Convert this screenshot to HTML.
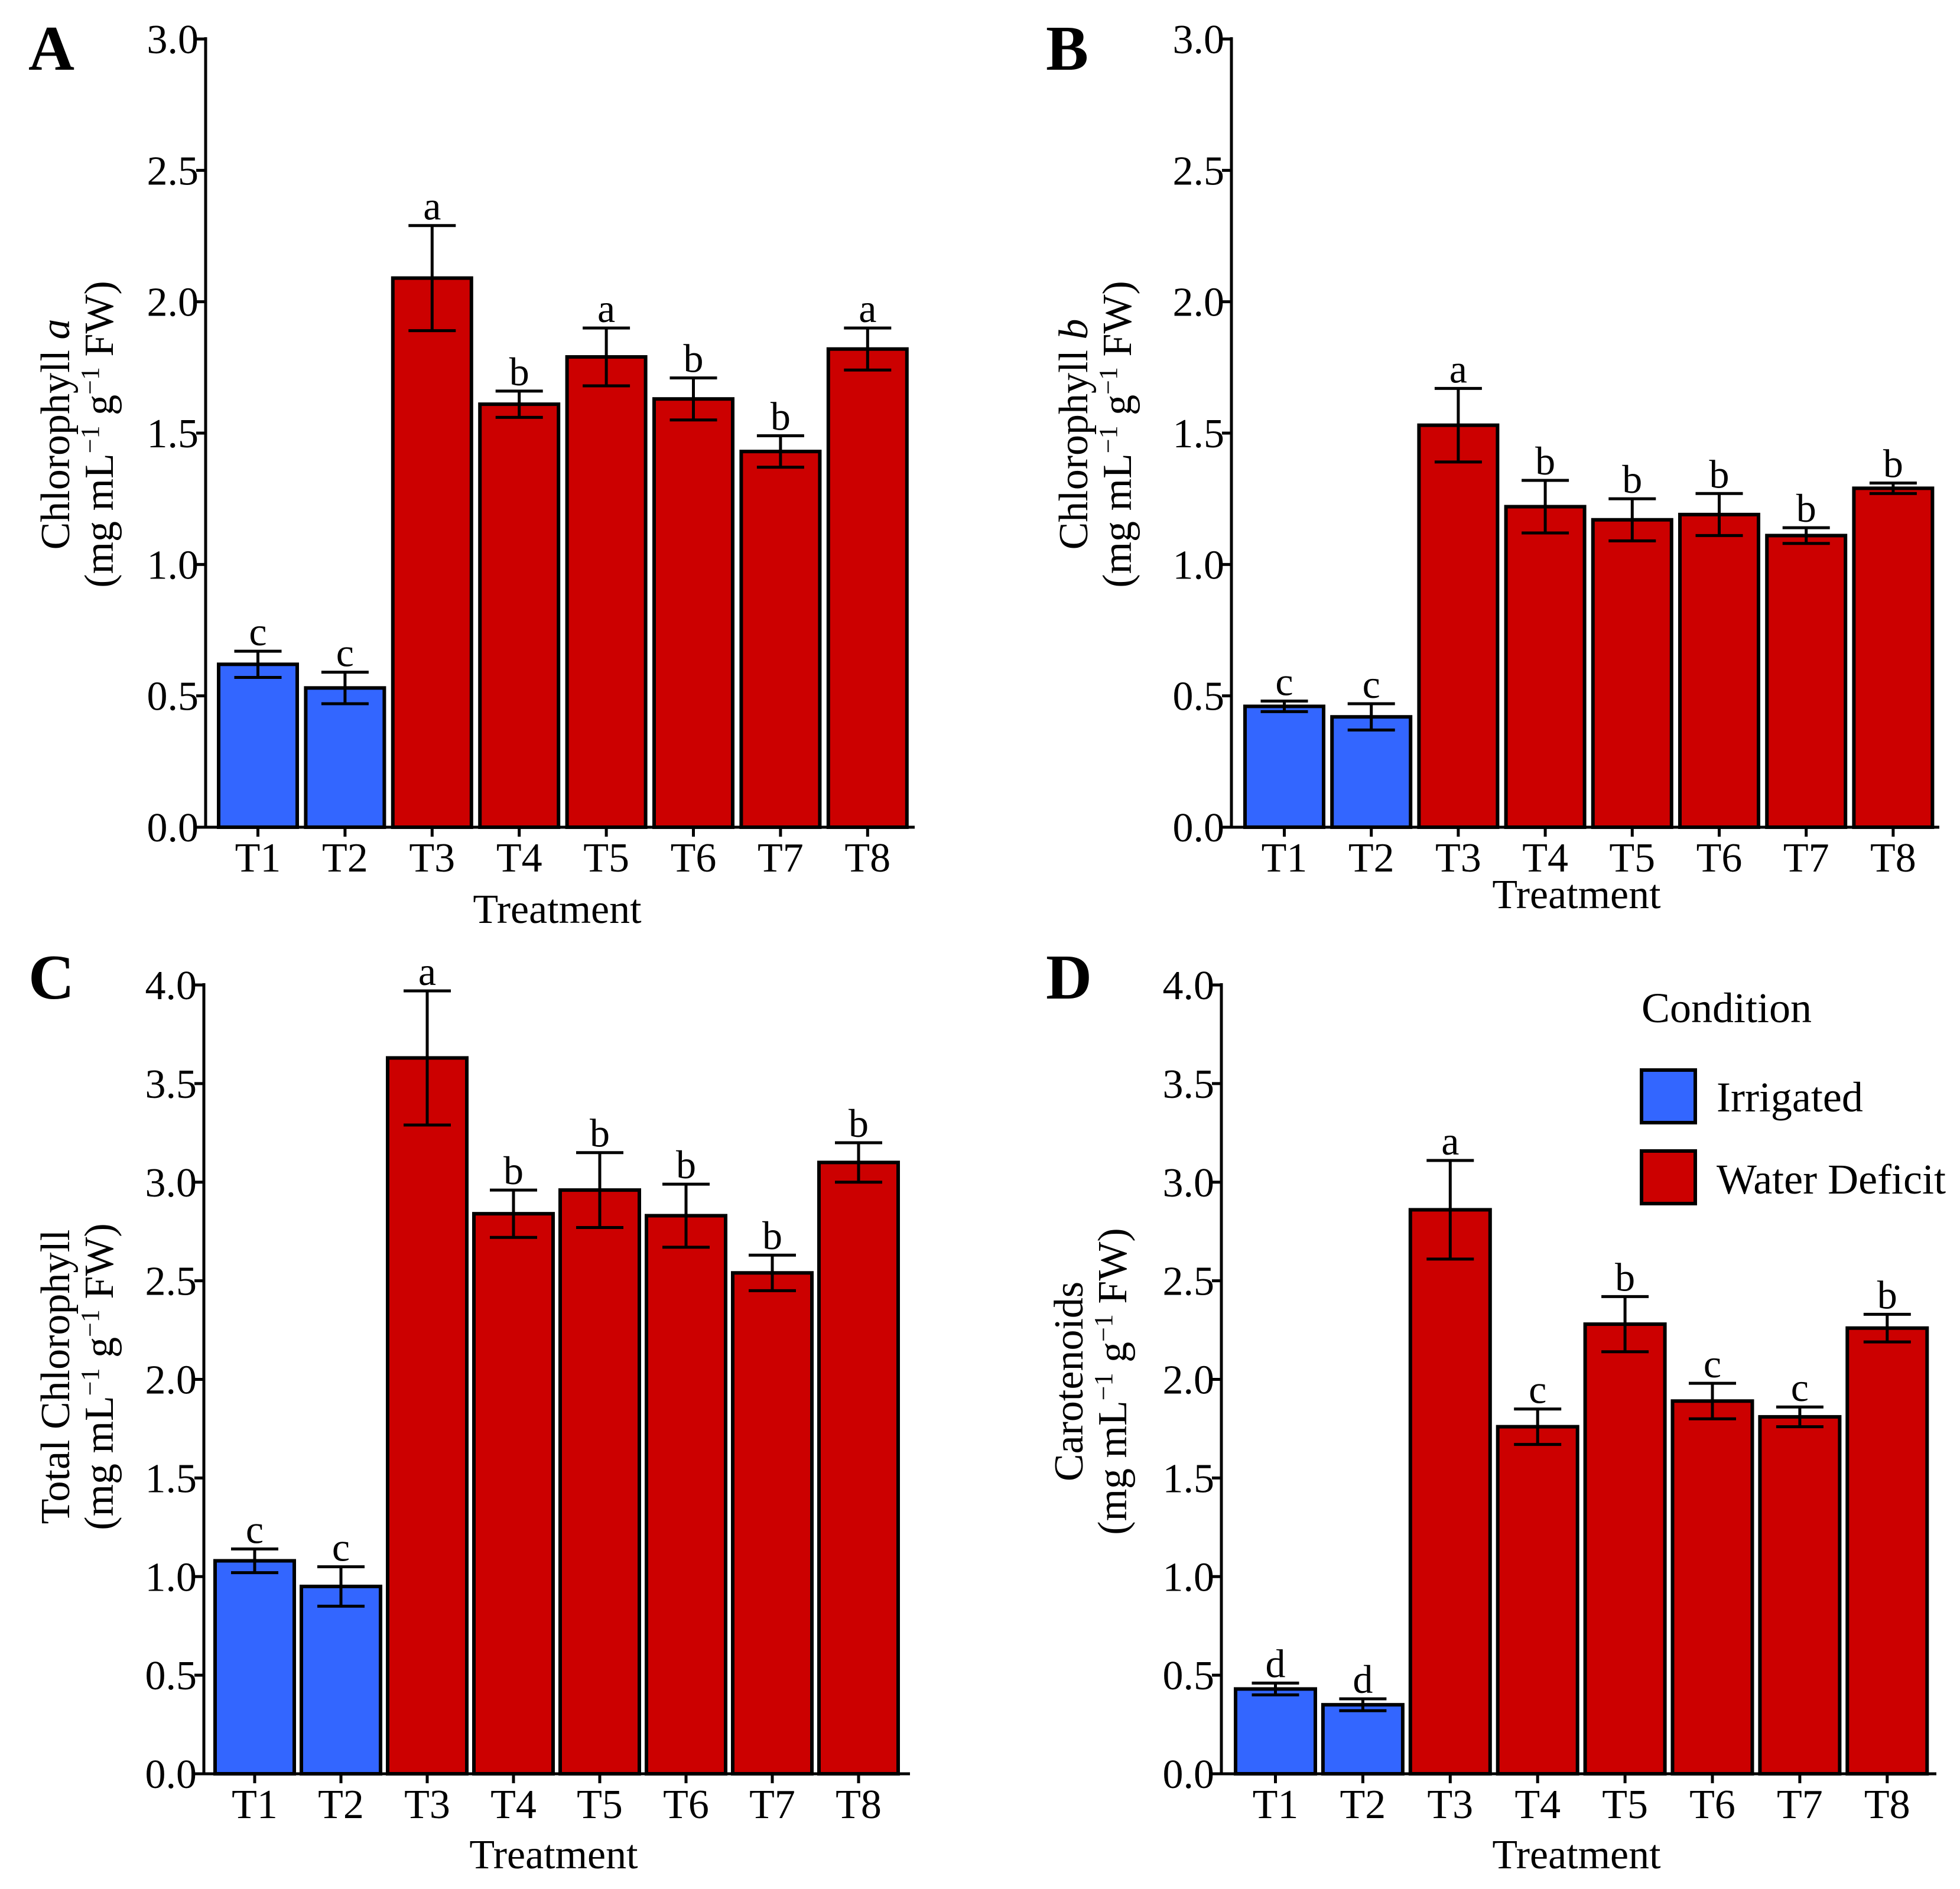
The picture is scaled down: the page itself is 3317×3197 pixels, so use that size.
<!DOCTYPE html>
<html><head><meta charset="utf-8"><style>
html,body{margin:0;padding:0;background:#fff;}
svg{display:block;font-family:"Liberation Serif",serif;}
</style></head><body>
<svg id="fig" width="3317" height="3197" viewBox="0 0 3317 3197" xmlns="http://www.w3.org/2000/svg">
<rect width="3317" height="3197" fill="#fff"/>
<g id="legend">
<text x="2778" y="1730" font-size="72">Condition</text>
<rect x="2778" y="1811" width="91" height="89" fill="#3366FF" stroke="#000" stroke-width="6"/>
<text x="2905" y="1881" font-size="72">Irrigated</text>
<rect x="2778" y="1948" width="91" height="89" fill="#CC0000" stroke="#000" stroke-width="6"/>
<text x="2905" y="2020" font-size="72">Water Deficit</text>
</g>
</svg>
<script>
const categories = ["T1","T2","T3","T4","T5","T6","T7","T8"];
const conditions = ["irr","irr","wd","wd","wd","wd","wd","wd"];
const chlA = [0.62,0.53,2.09,1.61,1.79,1.63,1.43,1.82];
const chlAErr = [0.05,0.06,0.20,0.05,0.11,0.08,0.06,0.08];
const chlALetters = ["c","c","a","b","a","b","b","a"];
const chlB = [0.46,0.42,1.53,1.22,1.17,1.19,1.11,1.29];
const chlBErr = [0.02,0.05,0.14,0.10,0.08,0.08,0.03,0.02];
const chlBLetters = ["c","c","a","b","b","b","b","b"];
const chlT = [1.08,0.95,3.63,2.84,2.96,2.83,2.54,3.10];
const chlTErr = [0.06,0.10,0.34,0.12,0.19,0.16,0.09,0.10];
const chlTLetters = ["c","c","a","b","b","b","b","b"];
const carot = [0.43,0.35,2.86,1.76,2.28,1.89,1.81,2.26];
const carotErr = [0.03,0.03,0.25,0.09,0.14,0.09,0.05,0.07];
const carotLetters = ["d","d","a","c","b","c","c","b"];
const ticks3 = ["0.0","0.5","1.0","1.5","2.0","2.5","3.0"];
const ticks4 = ["0.0","0.5","1.0","1.5","2.0","2.5","3.0","3.5","4.0"];

const NS="http://www.w3.org/2000/svg";
const svg=document.getElementById('fig');
function mk(tag,attrs,parent){const e=document.createElementNS(NS,tag);for(const k in attrs)e.setAttribute(k,attrs[k]);parent.appendChild(e);return e;}

function panel(p){
  const g=mk('g',{},svg);
  
  
  const ymax=parseFloat(p.ticks[p.ticks.length-1]);
  const y=v=>p.bottom-(v/ymax)*(p.bottom-p.top);
  const xc=i=>p.x0+p.bw/2+i*p.pitch;
  const L=mk('text',{x:p.letterX,y:p.letterY,'font-size':108,'font-weight':'bold'},g);L.textContent=p.id;
  
  
  p.vals.forEach((v,i)=>{
    const r=mk('rect',{x:xc(i)-p.bw/2,y:y(v),width:p.bw,height:p.bottom-y(v),fill:conditions[i]==='irr'?'#3366FF':'#CC0000',stroke:'#000','stroke-width':6},g);
    
    
  });
  p.vals.forEach((v,i)=>{
    const eg=mk('g',{stroke:'#000','stroke-width':5},g);
    
    
    const hi=y(v+p.err[i]),lo=y(v-p.err[i]),c=xc(i),w=40;
    mk('line',{x1:c,x2:c,y1:hi,y2:lo},eg);
    mk('line',{x1:c-w,x2:c+w,y1:hi,y2:hi},eg);
    mk('line',{x1:c-w,x2:c+w,y1:lo,y2:lo},eg);
    const t=mk('text',{x:c,y:hi-10,'font-size':68,'text-anchor':'middle',stroke:'none'},g);
    t.textContent=p.letters[i];
    
    
  });
  const ax=mk('g',{stroke:'#000','stroke-width':5,fill:'none'},g);
  
  
  mk('line',{x1:p.ax,x2:p.ax,y1:p.top-3,y2:p.bottom+2},ax);
  mk('line',{x1:p.ax-2,x2:p.axEnd,y1:p.bottom,y2:p.bottom},ax);
  p.ticks.forEach(tk=>{
    const yy=y(parseFloat(tk));
    mk('line',{x1:p.ax-16,x2:p.ax,y1:yy,y2:yy},ax);
    const t=mk('text',{x:p.ax-12,y:yy+24,'font-size':70,'text-anchor':'end'},g);t.textContent=tk;
    
    
  });
  categories.forEach((c,i)=>{
    mk('line',{x1:xc(i),x2:xc(i),y1:p.bottom,y2:p.bottom+16},ax);
    const t=mk('text',{x:xc(i),y:p.bottom+75,'font-size':70,'text-anchor':'middle'},g);t.textContent=c;
    
    
  });
  const xt=mk('text',{x:p.xtX,y:p.xtY,'font-size':70,'text-anchor':'middle'},g);xt.textContent='Treatment';
  
  
  const yt=mk('text',{transform:`translate(${p.ytX},${p.ytY}) rotate(-90)`,'font-size':70,'text-anchor':'middle'},g);
  
  
  yt.innerHTML=`<tspan x="0" y="0">${p.title}</tspan><tspan x="0" y="74">(mg mL<tspan font-size="44" baseline-shift="super">−1</tspan> g<tspan font-size="44" baseline-shift="super">−1</tspan> FW)</tspan>`;
}

panel({id:'A',vals:chlA,err:chlAErr,letters:chlALetters,ticks:ticks3,ax:348,axEnd:1548,top:66,bottom:1400,x0:370,bw:133,pitch:147.4,
  letterX:48,letterY:118,xtX:943,xtY:1562,ytX:117,ytY:735,title:'Chlorophyll <tspan font-style="italic">a</tspan>'});
panel({id:'B',vals:chlB,err:chlBErr,letters:chlBLetters,ticks:ticks3,ax:2084,axEnd:3282,top:66,bottom:1400,x0:2107,bw:133,pitch:147.2,
  letterX:1770,letterY:118,xtX:2668,xtY:1537,ytX:1840,ytY:735,title:'Chlorophyll <tspan font-style="italic">b</tspan>'});
panel({id:'C',vals:chlT,err:chlTErr,letters:chlTLetters,ticks:ticks4,ax:345,axEnd:1540,top:1667,bottom:3002,x0:364,bw:134,pitch:146,
  letterX:48,letterY:1690,xtX:937,xtY:3162,ytX:117,ytY:2330,title:'Total Chlorophyll'});
panel({id:'D',vals:carot,err:carotErr,letters:carotLetters,ticks:ticks4,ax:2067,axEnd:3277,top:1667,bottom:3002,x0:2091,bw:135,pitch:147.9,
  letterX:1770,letterY:1690,xtX:2668,xtY:3162,ytX:1832,ytY:2338,title:'Carotenoids'});
</script>
</body></html>
